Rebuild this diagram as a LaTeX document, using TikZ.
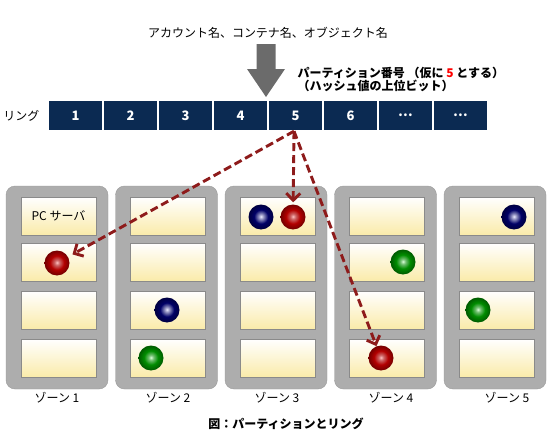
\documentclass[tikz,border=0pt]{standalone}
\usepackage{fontspec}
\setmainfont{Noto Sans CJK JP}
\usetikzlibrary{arrows.meta,positioning}

\definecolor{ringblue}{HTML}{0B2A52}
\definecolor{zonegray}{HTML}{ADADAD}
\definecolor{zoneedge}{HTML}{9A9A9A}
\definecolor{slotedge}{HTML}{8A8A8A}
\definecolor{slotyellow}{HTML}{FAEBAA}
\definecolor{linkred}{HTML}{8E1B1B}
\definecolor{hashgray}{HTML}{6B6B6B}

% replica balls
\pgfdeclareradialshading{redball}{\pgfpoint{0bp}{1bp}}{color(0bp)=(red!25!white); color(5bp)=(red!50!white!80!black); color(14bp)=(red!70!black); color(25bp)=(red!45!black); color(50bp)=(red!45!black)}
\pgfdeclareradialshading{navyball}{\pgfpoint{0bp}{1bp}}{color(0bp)=(blue!8!white); color(5bp)=(blue!25!white!75!black); color(14bp)=(blue!40!black); color(25bp)=(blue!25!black); color(50bp)=(blue!25!black)}
\pgfdeclareradialshading{greenball}{\pgfpoint{0bp}{1bp}}{color(0bp)=(green!15!white); color(5bp)=(green!40!white!75!black); color(14bp)=(green!55!black); color(25bp)=(green!35!black); color(50bp)=(green!35!black)}

\begin{document}
\begin{tikzpicture}[
    x=1pt, y=-1pt,
    font=\fontsize{12}{14}\selectfont,
    cell/.style={
        rectangle,
        fill=ringblue,
        minimum width=53pt,
        minimum height=29pt,
        inner sep=0pt,
        text=white,
        font=\fontsize{13}{15}\selectfont\bfseries
    },
    zone/.style={
        rectangle,
        rounded corners=9pt,
        fill=zonegray,
        draw=zoneedge,
        minimum width=102pt,
        minimum height=203pt,
        inner sep=0pt
    },
    slot/.style={
        rectangle,
        top color=white,
        bottom color=slotyellow,
        draw=slotedge,
        line width=0.8pt,
        minimum width=75pt,
        minimum height=38pt,
        inner sep=0pt
    },
    replica/.style={
        circle,
        shading=#1,
        minimum size=25pt,
        inner sep=0pt
    },
    link/.style={
        linkred,
        line width=2.9pt,
        dash pattern=on 8pt off 4pt,
        -{Straight Barb[length=7pt,width=14pt]}
    }]

    \useasboundingbox (0,0) rectangle (550,439);

    % hash input
    \node (names) at (268,33) {アカウント名、コンテナ名、オブジェクト名};
    \fill[hashgray] (256.5,44) -- (275.5,44) -- (275.5,69) -- (285,69)
        -- (266,97) -- (247,69) -- (256.5,69) -- cycle;
    \node[anchor=west, align=left, font=\fontsize{12}{13}\selectfont\bfseries] (pnum) at (294,79.5)
        {パーティション番号 （仮に \textcolor{red}{5} とする）\\（ハッシュ値の上位ビット）};

    % ring
    \foreach \i/\t in {1/1,2/2,3/3,4/4,5/5,6/6,7/…,8/…}
        \node[cell] (r\i) at (49+55*\i-28.5,115.5) {\t};
    \node[left=6pt of r1] (ringlabel) {リング};

    % zones
    \foreach \z/\lx in {1/57,2/168,3/277,4/391,5/507} {
        \node[zone] (z\z) at (57+109.5*\z-109.5,287.5) {};
        \node (zl\z) at (\lx,398) {ゾーン \z};
        \foreach \s/\sy in {1/216,2/262,3/310,4/358}
            \node[slot] (z\z s\s) at (58.5+109.5*\z-109.5,\sy) {};
    }
    \node (pc) at (z1s1) {PC サーバ};

    \node[replica=redball]   (b1r) at (57,263) {};
    \node[replica=navyball]  (b2n) at (167,310) {};
    \node[replica=greenball] (b2g) at (151,358) {};
    \node[replica=navyball]  (b3n) at (261,217) {};
    \node[replica=redball]   (b3r) at (293,217) {};
    \node[replica=greenball] (b4g) at (403,262) {};
    \node[replica=redball]   (b4r) at (381,358) {};
    \node[replica=navyball]  (b5n) at (514,217) {};
    \node[replica=greenball] (b5g) at (478,310) {};

    % partition 5 -> replicas
    \coordinate (src) at ([xshift=-1.5pt,yshift=-1pt]r5.south);
    \draw[link, shorten >=5pt] (src) -- (b1r);
    \draw[link, shorten >=2pt] (src) -- (b3r);
    \draw[link] (src) -- (b4r);

    \node[font=\fontsize{12}{14}\selectfont\bfseries] (caption) at (286,424) {図：パーティションとリング};
\end{tikzpicture}
\end{document}
